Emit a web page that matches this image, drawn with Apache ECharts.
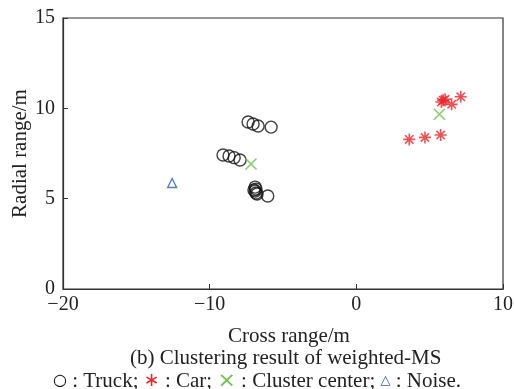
<!DOCTYPE html>
<html>
<head>
<meta charset="utf-8">
<script src="https://cdn.jsdelivr.net/npm/echarts@6/dist/echarts.min.js"></script>
<style>
  html, body { margin: 0; padding: 0; background: #fff; }
  #chart { width: 514px; height: 389px; }
</style>
</head>
<body>
<div id="chart"></div>
<script>
// 散点数据 [cross range, radial range]
const truckPoints = [
  [-7.38, 9.24], [-7.04, 9.13], [-6.70, 9.02], [-5.81, 8.96],
  [-9.09, 7.42], [-8.68, 7.36], [-8.33, 7.27], [-7.93, 7.14],
  [-6.90, 5.64], [-6.84, 5.53], [-6.98, 5.48], [-6.90, 5.42],
  [-6.84, 5.31], [-6.77, 5.26], [-6.04, 5.15]
]
const carPoints = [
  [3.61, 8.28], [4.68, 8.39], [5.75, 8.52],
  [5.80, 10.35], [5.92, 10.45], [6.05, 10.50], [6.50, 10.22], [7.12, 10.64]
]
const centerPoints = [[-7.18, 6.92], [5.66, 9.67]]
const noisePoints = [[-12.56, 5.87]]
const xTicks = [-20, -10, 0, 10]
const yTicks = [0, 5, 10, 15]

const chart = echarts.init(document.getElementById('chart'))
const font = 'Liberation Serif, Times New Roman, serif'
const starPath = 'path://M0,-1L0,1M-1,0L1,0M-0.7,-0.7L0.7,0.7M-0.7,0.7L0.7,-0.7'
const crossPath = 'path://M-1,-1L1,1M-1,1L1,-1'
// 负号用真正的减号
const minusFmt = (v) => String(v).replace('-', '\u2212')

const option = {
  animation: false,
  grid: {
    left: 63, right: 11, top: 18, bottom: 100, outerBoundsMode: 'none',
    show: true, borderColor: '#333', borderWidth: 1.2
  },
  xAxis: {
    type: 'value', min: xTicks[0], max: xTicks[xTicks.length - 1], interval: 10,
    name: 'Cross range/m', nameLocation: 'middle', nameGap: 37,
    nameTextStyle: { fontFamily: font, fontSize: 21, color: '#222', padding: [0, 0, 0, 12] },
    axisLine: { onZero: false, lineStyle: { color: '#333', width: 1.2 } },
    axisTick: { inside: true, length: 5, lineStyle: { color: '#333' } },
    axisLabel: { fontFamily: font, fontSize: 20, color: '#222', margin: 6, formatter: minusFmt },
    splitLine: { show: false }
  },
  yAxis: {
    type: 'value', min: yTicks[0], max: yTicks[yTicks.length - 1], interval: 5,
    name: 'Radial range/m', nameLocation: 'middle', nameGap: 32, nameMoveOverlap: false,
    nameTextStyle: { fontFamily: font, fontSize: 21, color: '#222' },
    axisLine: { onZero: false, lineStyle: { color: '#333', width: 1.2 } },
    axisTick: { inside: true, length: 5, lineStyle: { color: '#333' } },
    axisLabel: { fontFamily: font, fontSize: 20, color: '#222', margin: 8 },
    splitLine: { show: false }
  },
  series: [
    {
      name: 'Truck', type: 'scatter', data: truckPoints, symbol: 'circle', symbolSize: 12,
      itemStyle: { color: 'rgba(0,0,0,0)', borderColor: '#111', borderWidth: 1.4 }
    },
    {
      name: 'Car', type: 'scatter', data: carPoints, symbol: starPath, symbolSize: 12,
      itemStyle: { color: 'none', borderColor: '#e8262a', borderWidth: 1.6 }
    },
    {
      name: 'Cluster center', type: 'scatter', data: centerPoints, symbol: crossPath, symbolSize: 11,
      itemStyle: { color: 'none', borderColor: '#6cc24a', borderWidth: 1.6 }
    },
    {
      name: 'Noise', type: 'scatter', data: noisePoints, symbol: 'triangle', symbolSize: 9,
      itemStyle: { color: 'rgba(0,0,0,0)', borderColor: '#2a5bc0', borderWidth: 1.4 }
    }
  ],
  graphic: [
    {
      type: 'text', left: 130, top: 348,
      style: { text: '(b) Clustering result of weighted-MS', fontFamily: font, fontSize: 21, fill: '#222' }
    },
    {
      type: 'text', left: 'center', top: 370,
      style: {
        text: '{c|○} : Truck; {s|∗} : Car; {x|×} : Cluster center; {t|△} : Noise.',
        fontFamily: font, fontSize: 21, fill: '#222',
        rich: {
          c: { fontSize: 16, fill: '#111', fontFamily: 'DejaVu Sans' },
          s: { fontSize: 19, fill: '#e8262a', fontFamily: 'DejaVu Sans' },
          x: { fontSize: 22, fill: '#6cc24a', fontFamily: 'DejaVu Sans' },
          t: { fontSize: 13, fill: '#2a5bc0', fontFamily: 'DejaVu Sans' }
        }
      }
    }
  ]
}
chart.setOption(option)
</script>
</body>
</html>
